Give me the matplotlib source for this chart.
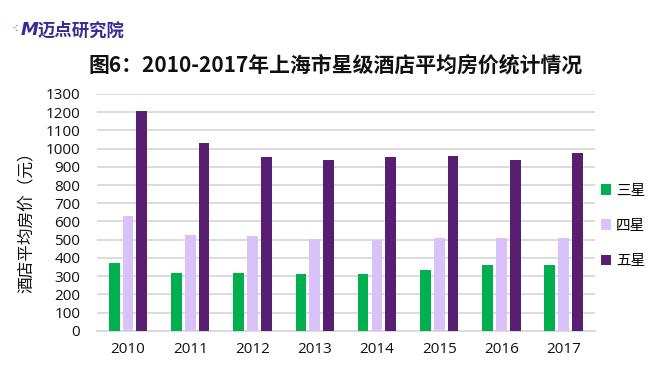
import numpy as np
import matplotlib
matplotlib.use("Agg")
import matplotlib.pyplot as plt
from matplotlib.patches import Patch

years = ["2010", "2011", "2012", "2013", "2014", "2015", "2016", "2017"]
three_star = [373, 315, 315, 313, 313, 333, 359, 363]
four_star = [630, 526, 520, 504, 497, 508, 508, 511]
five_star = [1209, 1030, 956, 936, 953, 962, 936, 976]
series_names = ["三星", "四星", "五星"]
colors = ["#00B050", "#D9C2F7", "#581E72"]

plt.rcParams["font.family"] = ["Open Sans", "Noto Sans CJK SC", "DejaVu Sans"]

fig = plt.figure(figsize=(6.5, 3.7), dpi=100)
ax = fig.add_axes([0.149, 0.106, 0.766, 0.640])

x = np.arange(len(years))
w = 0.172
step = 0.222
for i, (vals, c) in enumerate(zip([three_star, four_star, five_star], colors)):
    ax.bar(x + (i - 1) * step, vals, width=w, color=c, zorder=3)

ax.set_xlim(-0.5, len(years) - 0.5)
ax.set_ylim(0, 1300)
ax.set_yticks(np.arange(0, 1301, 100))
ax.set_xticks(x)
ax.set_xticklabels(years)
ax.tick_params(axis="both", length=0, labelsize=11, colors="#111111")
ax.tick_params(axis="x", pad=8)
ax.tick_params(axis="y", pad=12)
ax.grid(axis="y", color="#D9D9D9", linewidth=1.3, zorder=0)
for s in ["top", "right", "left"]:
    ax.spines[s].set_visible(False)
ax.spines["bottom"].set_color("#D9D9D9")
ax.spines["bottom"].set_linewidth(1.3)

fig.text(0.040, 0.41, "酒店平均房价（元）", rotation=90, ha="center", va="center",
         fontsize=12, family=["Noto Sans CJK SC"], color="#111111")

handles = [Patch(facecolor=c, edgecolor="none") for c in colors]
fig.legend(handles, series_names, loc="center left", bbox_to_anchor=(0.925, 0.39),
           frameon=False, handlelength=0.7, handleheight=0.7, borderpad=0, borderaxespad=0,
           handletextpad=0.3, labelspacing=1.45, prop={"family": "Noto Sans CJK SC", "size": 10.5})

fig.text(0.516, 0.823, "图6：2010-2017年上海市星级酒店平均房价统计情况", ha="center", va="center",
         fontsize=15, fontweight="bold", family=["Noto Sans CJK SC"], color="#111111")

# logo
fig.text(0.024, 0.922, "·:", ha="center", va="center", fontsize=8, color="#3DBE5C", fontweight="bold")
fig.text(0.031, 0.918, "M", ha="left", va="center", fontsize=13, fontweight="heavy",
         style="italic", color="#3A2A92", family=["DejaVu Sans"])
fig.text(0.058, 0.918, "迈点研究院", ha="left", va="center", fontsize=12.5, fontweight="heavy",
         color="#3A2A92", family=["Noto Sans CJK SC"])

fig.savefig("out.png", dpi=100)
